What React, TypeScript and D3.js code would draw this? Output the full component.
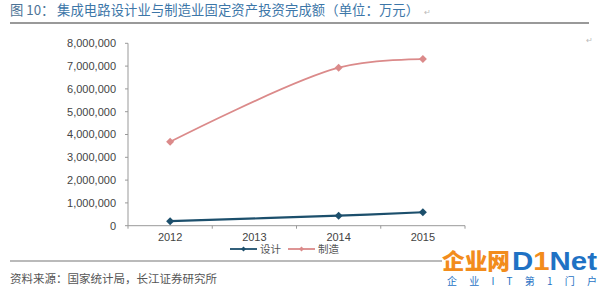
import React from "react";
import * as d3 from "d3";

const years = ["2012", "2013", "2014", "2015"];
const designValues: (number | null)[] = [200000, null, 440000, 590000];
const manufValues: (number | null)[] = [3680000, null, 6930000, 7310000];
const yTicks = [0, 1000000, 2000000, 3000000, 4000000, 5000000, 6000000, 7000000, 8000000];
const seriesNames = ["设计", "制造"];
const titlePrefix = "图 10：";
const titleText = "集成电路设计业与制造业固定资产投资完成额（单位：万元）";
const sourceText = "资料来源：国家统计局，长江证券研究所";

const W = 600, H = 288;
const left = 128, right = 465, top = 43.3, bottom = 225.7;
const BLUE = "#1c4f6c";
const RED = "#db8a8a";
const CJK = "'Noto Sans CJK SC', sans-serif";
const NUM = "'Liberation Sans', Arial, sans-serif";

export default function App() {
  const x = d3.scaleBand<string>().domain(years).range([left, right]).padding(0);
  const y = d3.scaleLinear().domain([0, 8000000]).range([bottom, top]);
  const cx = (yr: string) => (x(yr) as number) + x.bandwidth() / 2;
  const fmt = d3.format(",");

  const mk = (vals: (number | null)[]) =>
    years.map((yr, i) => ({ yr, v: vals[i] })).filter((d) => d.v !== null) as { yr: string; v: number }[];

  const line = d3
    .line<{ yr: string; v: number }>()
    .x((d) => cx(d.yr))
    .y((d) => y(d.v))
    .curve(d3.curveCatmullRom.alpha(0.5));

  const series = [
    { name: seriesNames[0], color: BLUE, data: mk(designValues), width: 2.2 },
    { name: seriesNames[1], color: RED, data: mk(manufValues), width: 1.8 },
  ];

  const diamond = (px: number, py: number, r: number) =>
    `M${px},${py - r}L${px + r},${py}L${px},${py + r}L${px - r},${py}Z`;

  const tickEdges = [...years.map((yr) => x(yr) as number), right];

  return (
    <svg width={W} height={H} style={{ position: "absolute", left: 0, top: 0, background: "#fff" }}>
      <rect x={0} y={0} width={W} height={H} fill="#fff" />
      {/* Title */}
      <text x={10} y={15} fontFamily={CJK} fontSize={13.3} fill="#4d7396">
        <tspan>{titlePrefix}</tspan>
        <tspan x={57} fill="#3c76a8" textLength={362} lengthAdjust="spacing">{titleText}</tspan>
      </text>
      <text x={424} y={15} fontFamily={NUM} fontSize={8} fill="#bbb">↵</text>
      <text x={586} y={43} fontFamily={NUM} fontSize={8} fill="#bbb">↵</text>
      <line x1={10} x2={589} y1={23} y2={23} stroke="#777" strokeWidth={1.3} />

      {/* Y axis */}
      <line x1={left} x2={left} y1={top} y2={bottom} stroke="#999" />
      {yTicks.map((t) => (
        <g key={t}>
          <line x1={left - 3} x2={left} y1={y(t)} y2={y(t)} stroke="#999" />
          <text x={116} y={y(t)} dy="0.35em" textAnchor="end" fontFamily={NUM} fontSize={11} fill="#444">
            {fmt(t)}
          </text>
        </g>
      ))}

      {/* X axis */}
      <line x1={left} x2={right} y1={bottom} y2={bottom} stroke="#999" />
      {tickEdges.map((e, i) => (
        <line key={i} x1={e} x2={e} y1={bottom} y2={bottom + 3} stroke="#999" />
      ))}
      {years.map((yr) => (
        <text key={yr} x={cx(yr)} y={241} textAnchor="middle" fontFamily={NUM} fontSize={11} fill="#444">
          {yr}
        </text>
      ))}

      {/* Series */}
      {series.map((s) => (
        <g key={s.name}>
          <path d={line(s.data) || ""} fill="none" stroke={s.color} strokeWidth={s.width} />
          {s.data.map((d) => (
            <path key={d.yr} d={diamond(cx(d.yr), y(d.v), 4)} fill={s.color} />
          ))}
        </g>
      ))}

      {/* Legend */}
      {series.map((s, i) => {
        const lx = i === 0 ? 230 : 288;
        return (
          <g key={s.name}>
            <line x1={lx} x2={lx + 27} y1={249} y2={249} stroke={s.color} strokeWidth={1.8} />
            <path d={diamond(lx + 13.5, 249, 2.5)} fill={s.color} />
            <text x={lx + 30} y={249} dy="0.35em" fontFamily={CJK} fontSize={10.5} fill="#555">
              {s.name}
            </text>
          </g>
        );
      })}

      {/* Footer */}
      <line x1={10} x2={442} y1={261} y2={261} stroke="#777" strokeWidth={1.2} />
      <text x={10} y={283} fontFamily={CJK} fontSize={11.5} fill="#555">{sourceText}</text>

      {/* Watermark */}
      <text x={442} y={269} fontFamily={CJK} fontSize={22} fontWeight={900} fill="#f28c1c" textLength={68} lengthAdjust="spacingAndGlyphs">企业网</text>
      <text x={512} y={270} fontFamily={NUM} fontSize={25} fontWeight={700} fill="#1f72c4" textLength={85} lengthAdjust="spacingAndGlyphs">
        <tspan>D</tspan>
        <tspan fill="#f28c1c">1</tspan>
        <tspan>Net</tspan>
      </text>
      <text x={447} y={285} fontFamily={CJK} fontSize={10} fill="#1f72c4" textLength={150} lengthAdjust="spacing">企业IT第1门户</text>
    </svg>
  );
}
